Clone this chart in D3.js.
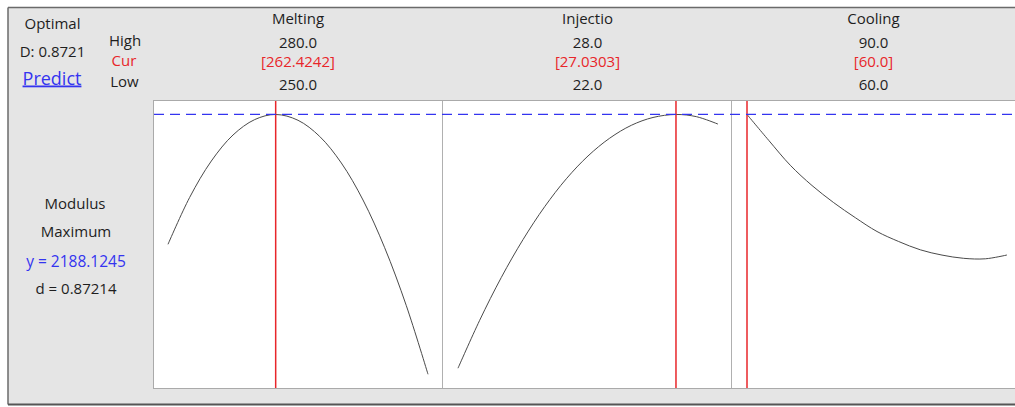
<!DOCTYPE html>
<html>
<head>
<meta charset="utf-8">
<script src="https://cdn.jsdelivr.net/npm/d3@7"></script>
<style>
  html, body { margin: 0; padding: 0; background: #ffffff; }
  svg { display: block; font-family: "Open Sans", "Noto Sans", sans-serif; }
</style>
</head>
<body>
<svg id="chart" width="1015" height="407"></svg>
<script>
// Response optimizer: factor settings and predicted response
const factors = ["Melting", "Injectio", "Cooling"];
const highs = [280.0, 28.0, 90.0];
const lows = [250.0, 22.0, 60.0];
const current = [262.4242, 27.0303, 60.0];
const currentLabels = ["[262.4242]", "[27.0303]", "[60.0]"];

const responseName = "Modulus";
const goalName = "Maximum";
const optimalD = 0.8721;
const predictedY = 2188.1245;
const predictedD = 0.87214;

// Response trace across each factor's range (other factors held at current settings)
const meltingX = [250, 252.5, 255, 257.5, 260, 262.4242, 265, 267.5, 270, 272.5, 275, 277.5, 280];
const meltingY = [1919.4, 2016.5, 2091.8, 2145.6, 2177.5, 2188.1245, 2176.1, 2142.7, 2087.7, 2011.1, 1912.4, 1792.3, 1650.4];

const injectionX = [22, 22.5, 23, 23.5, 24, 24.5, 25, 25.5, 26, 26.5, 27.0303, 27.5, 28];
const injectionY = [1663.0, 1762.1, 1850.9, 1929.1, 1997.2, 2055.0, 2102.2, 2139.0, 2165.7, 2181.9, 2188.1245, 2183.6, 2168.2];

const coolingX = [60, 62.5, 65, 67.5, 70, 72.5, 75, 77.5, 80, 82.5, 85, 87.5, 90];
const coolingY = [2188.1245, 2134.7, 2082.9, 2041.1, 2005.7, 1974.5, 1945.9, 1925.2, 1908.0, 1897.1, 1890.4, 1889.4, 1897.3];

const traceX = [meltingX, injectionX, coolingX];
const traceY = [meltingY, injectionY, coolingY];

const W = 1015, H = 407;
const svg = d3.select("#chart");

const textColor = "#1e1e1e";
const redColor = "#e8262a";
const blueColor = "#3434f0";

// Frame
const frameLeft = 8, frameTop = 7.5, frameBottom = 404.5;
svg.append("rect")
  .attr("x", frameLeft).attr("y", frameTop)
  .attr("width", W - frameLeft + 5).attr("height", frameBottom - frameTop)
  .attr("fill", "#e5e5e5");
svg.append("line").attr("x1", frameLeft).attr("x2", W).attr("y1", frameTop).attr("y2", frameTop)
  .attr("stroke", "#6a6a6a").attr("stroke-width", 1.5);
svg.append("line").attr("x1", frameLeft).attr("x2", frameLeft).attr("y1", frameTop).attr("y2", frameBottom)
  .attr("stroke", "#6a6a6a").attr("stroke-width", 1.5);
svg.append("line").attr("x1", frameLeft).attr("x2", W).attr("y1", frameBottom).attr("y2", frameBottom)
  .attr("stroke", "#555555").attr("stroke-width", 2);

// Plot area
const plotTop = 101, plotBottom = 388;
const panelEdges = [153, 443, 732, 1022];
const pad = 15;
const plotWidth = 275 - pad;

const y = d3.scaleLinear().domain([1622, 2216]).range([plotBottom, plotTop]);

svg.append("rect")
  .attr("x", panelEdges[0] + 0.5).attr("y", plotTop - 0.5)
  .attr("width", panelEdges[3] - panelEdges[0]).attr("height", plotBottom - plotTop + 1)
  .attr("fill", "#ffffff").attr("stroke", "#aaaaaa").attr("stroke-width", 1);

const xScales = factors.map((f, i) =>
  d3.scaleLinear().domain([lows[i], highs[i]])
    .range([panelEdges[i] + pad, panelEdges[i] + pad + plotWidth]));

// Panel separators
[1, 2].forEach(i => {
  svg.append("line")
    .attr("x1", panelEdges[i] - 0.5).attr("x2", panelEdges[i] - 0.5)
    .attr("y1", plotTop).attr("y2", plotBottom)
    .attr("stroke", "#b0b0b0").attr("stroke-width", 1);
});

// Traces
const line = d3.line().curve(d3.curveCatmullRom.alpha(0.5));
factors.forEach((f, i) => {
  const pts = traceX[i].map((xv, k) => [xScales[i](xv), y(traceY[i][k])]);
  svg.append("path")
    .attr("d", line(pts))
    .attr("fill", "none")
    .attr("stroke", "#4a4a4a")
    .attr("stroke-width", 1);
});

// Current settings
factors.forEach((f, i) => {
  const cx = xScales[i](current[i]);
  svg.append("line")
    .attr("x1", cx).attr("x2", cx)
    .attr("y1", plotTop).attr("y2", plotBottom)
    .attr("stroke", redColor).attr("stroke-width", 1.5);
});

// Predicted response level
svg.append("line")
  .attr("x1", panelEdges[0] + 1).attr("x2", W)
  .attr("y1", y(predictedY)).attr("y2", y(predictedY))
  .attr("stroke", blueColor).attr("stroke-width", 1.2)
  .attr("stroke-dasharray", "10,6");

// Header: factor names and ranges
const fs = 15;
factors.forEach((f, i) => {
  const cx = (panelEdges[i] + Math.min(panelEdges[i + 1], W)) / 2;
  const g = svg.append("g").attr("text-anchor", "middle").style("font-size", fs + "px");
  g.append("text").attr("x", cx).attr("y", 24).attr("fill", textColor).text(f);
  g.append("text").attr("x", cx).attr("y", 48).attr("fill", textColor).text(d3.format(".1f")(highs[i]));
  g.append("text").attr("x", cx).attr("y", 66.5).attr("fill", redColor).text(currentLabels[i]);
  g.append("text").attr("x", cx).attr("y", 89.5).attr("fill", textColor).text(d3.format(".1f")(lows[i]));
});

// Row labels
const rows = svg.append("g").attr("text-anchor", "middle").style("font-size", fs + "px");
rows.append("text").attr("x", 125).attr("y", 45.5).attr("fill", textColor).text("High");
rows.append("text").attr("x", 124).attr("y", 66).attr("fill", redColor).text("Cur");
rows.append("text").attr("x", 124.5).attr("y", 87).attr("fill", textColor).text("Low");

// Optimal composite desirability
const opt = svg.append("g").attr("text-anchor", "middle").style("font-size", fs + "px");
opt.append("text").attr("x", 52.5).attr("y", 29.3).attr("fill", textColor).text("Optimal");
opt.append("text").attr("x", 52.5).attr("y", 56.7).attr("fill", textColor).text("D: " + d3.format(".4f")(optimalD));
opt.append("text").attr("x", 52).attr("y", 84.5).attr("fill", blueColor)
  .style("font-size", "18px").style("text-decoration", "underline").text("Predict");

// Response summary
const resp = svg.append("g").attr("text-anchor", "middle").style("font-size", fs + "px");
resp.append("text").attr("x", 75).attr("y", 209).attr("fill", textColor).text(responseName);
resp.append("text").attr("x", 76).attr("y", 237).attr("fill", textColor).text(goalName);
resp.append("text").attr("x", 76).attr("y", 267).attr("fill", blueColor)
  .style("font-size", "15.5px").text("y = " + d3.format(".4f")(predictedY));
resp.append("text").attr("x", 76).attr("y", 294).attr("fill", textColor).text("d = " + d3.format(".5f")(predictedD));
</script>
</body>
</html>
